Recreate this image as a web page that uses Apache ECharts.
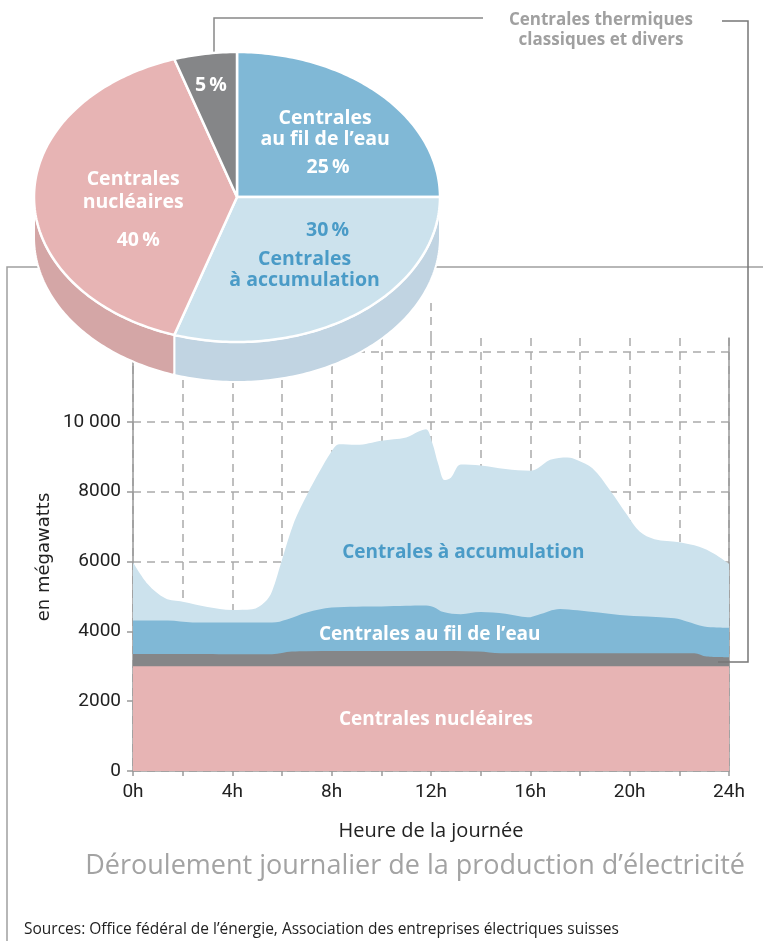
<!DOCTYPE html>
<html><head><meta charset="utf-8">
<script src="https://cdn.jsdelivr.net/npm/echarts@6/dist/echarts.min.js"></script>
<style>html,body{margin:0;padding:0;background:#fff}#c{width:763px;height:941px}</style>
</head><body><div id="c"></div>
<script>
// ---------- DATA ----------
const pieNames = ["Centrales\nau fil de l’eau", "Centrales\nà accumulation", "Centrales\nnucléaires", "Centrales thermiques\nclassiques et divers"];
const pieValues = [25, 30, 40, 5];

const areaNames = ["Centrales à accumulation", "Centrales au fil de l’eau", "Centrales thermiques classiques et divers", "Centrales nucléaires"];

// upper edge of each layer (MW)
const accHours = [0,0.6,1.3,2,3,4,4.8,5.3,5.6,6,6.5,7,7.5,8,8.3,9,10,11,11.5,11.8,12.05,12.3,12.55,12.8,13.2,14,15,16,16.3,16.8,17.5,17.9,18.5,19.2,19.9,20.4,21,22,22.8,23.4,24];
const accTop   = [5980,5350,4950,4850,4700,4610,4630,4830,5150,6050,7150,7900,8560,9160,9360,9340,9460,9550,9720,9790,9400,8770,8330,8400,8780,8750,8650,8600,8670,8910,8980,8900,8670,8050,7330,6860,6640,6550,6420,6220,5930];

const filHours = [0,1.4,2.4,5.6,6.2,7,8,9,10,11,11.7,12.1,12.5,13.2,14,15,15.9,16.3,17.2,17.9,19.6,21.8,22.3,23,23.5,24];
const filTop   = [4310,4310,4255,4250,4340,4540,4680,4705,4710,4730,4740,4700,4550,4490,4550,4500,4400,4470,4640,4600,4470,4375,4280,4135,4110,4105];

const thermHours = [0,5.6,6.4,7,12,13.9,14.8,22.6,23.1,24];
const thermTop   = [3350,3345,3420,3430,3435,3420,3372,3372,3276,3257];

const nuclHours = [0,24];
const nuclTop   = [3000,3000];

const yTicks = [0,2000,4000,6000,8000,10000];
const yTickLabels = ["0","2000","4000","6000","8000","10 000"];

// ---------- STYLE / LAYOUT ----------
const FONT = 'Roboto, "Liberation Sans", sans-serif';
const FONT2 = '"Open Sans", Roboto, sans-serif';
const PIE = {cx:237, cy:197, rx:203, ry:145, depth:40};
const pieTopColors  = ['#80b8d6', '#cce2ed', '#e7b4b4', '#858688'];
const pieSideColors = ['#6fa3bf', '#c1d4e2', '#d4a6a6', '#76777a'];
const pieLabelLayout = [
  {f:0.6, name:true,  nameDx:2,  nameDy:-7, pctDx:5,  pctDy:32, color:'#fff',    lh:21},
  {f:0.6, name:true,  nameDx:-4, nameDy:3,  pctDx:19, pctDy:-37, color:'#4a9bc7', lh:21},
  {f:0.6, name:true,  nameDx:18, nameDy:-6, pctDx:23, pctDy:43, color:'#fff',    lh:23},
  {f:0.6, name:false, nameDx:0,  nameDy:0,  pctDx:-7, pctDy:-26, color:'#fff',   lh:20}
];
const areaColors = ['#cce2ed', '#80b8d6', '#858688', '#e7b4b4'];

function zip(h, v){ return h.map((x,i)=>[x, v[i]]); }

function ellPt(deg, f, dy){
  const r = deg*Math.PI/180;
  return [PIE.cx + PIE.rx*f*Math.sin(r), PIE.cy - PIE.ry*f*Math.cos(r) + (dy||0)];
}

function renderPie(params, api){
  const i = params.dataIndex;
  const total = pieValues.reduce((a,b)=>a+b,0);
  let before = 0; for (let k=0;k<i;k++) before += pieValues[k];
  const a0 = before/total*360, a1 = (before+pieValues[i])/total*360;
  const children = [];
  const t0 = Math.max(a0,90), t1 = Math.min(a1,270);
  if (t1 > t0){
    const pts = [];
    for (let d=t0; d<t1; d+=1) pts.push(ellPt(d,1,0));
    pts.push(ellPt(t1,1,0));
    for (let d=t1; d>t0; d-=1) pts.push(ellPt(d,1,PIE.depth));
    pts.push(ellPt(t0,1,PIE.depth));
    children.push({type:'polygon', z2:0, shape:{points:pts}, style:{fill:pieSideColors[i], stroke:'#fff', lineWidth:2}});
  }
  const top = [[PIE.cx, PIE.cy]];
  for (let d=a0; d<a1; d+=1) top.push(ellPt(d,1,0));
  top.push(ellPt(a1,1,0));
  children.push({type:'polygon', z2:1, shape:{points:top}, style:{fill:pieTopColors[i], stroke:'#fff', lineWidth:2.5, lineJoin:'round'}});
  const L = pieLabelLayout[i];
  const anc = ellPt((a0+a1)/2, L.f, 0);
  if (L.name){
    children.push({type:'text', z2:2, x:anc[0]+L.nameDx, y:anc[1]+L.nameDy,
      style:{text:pieNames[i], fill:L.color, fontSize:19.5, fontWeight:'bold', fontFamily:FONT2, align:'center', verticalAlign:'middle', lineHeight:L.lh}});
  }
  children.push({type:'text', z2:2, x:anc[0]+L.pctDx, y:anc[1]+L.pctDy,
    style:{text:pieValues[i]+'\u2009%', fill:L.color, fontSize:19.5, fontWeight:'bold', fontFamily:FONT2, align:'center', verticalAlign:'middle'}});
  return {type:'group', children};
}

const areaLabelPos = [[13.3, 6250], [11.95, 3900], null, [12.2, 1460]];
const areaLabelColor = ['#4a9bc7', '#fff', null, '#fff'];
const areaData = [zip(accHours,accTop), zip(filHours,filTop), zip(thermHours,thermTop), zip(nuclHours,nuclTop)];

const series = areaNames.map((n,i)=>{
  const s = {
    name:n, type:'line', data:areaData[i], smooth:0.35, symbol:'none',
    lineStyle:{width:0}, areaStyle:{color:areaColors[i], opacity:1}, itemStyle:{color:areaColors[i]},
    silent:true, z:2
  };
  if (areaLabelPos[i]){
    s.markPoint = {symbol:'circle', symbolSize:0, silent:true, data:[{coord:areaLabelPos[i], value:n}],
      label:{show:true, position:'inside', formatter:n, color:areaLabelColor[i], fontSize:19, fontWeight:'bold', fontFamily:FONT2}};
  }
  return s;
});
series.push({type:'custom', coordinateSystem:'none', renderItem:renderPie, data:pieValues, z:20, silent:true});

const gridColor = '#aaaaaa';
const option = {
  animation:false,
  grid:{left:133, right:34, top:338, bottom:170},
  xAxis:{type:'value', min:0, max:24, interval:2,
    axisLine:{lineStyle:{color:'#999', width:1.5}},
    axisTick:{show:true, length:5, lineStyle:{color:'#999', width:1.5}},
    axisLabel:{formatter:v=> (v%4===0 ? v+'h' : ''), color:'#222', fontSize:19, fontFamily:FONT, margin:12},
    splitLine:{show:true, lineStyle:{type:[8,6], color:gridColor, width:1.5}},
    name:'Heure de la journée', nameLocation:'middle', nameGap:50,
    nameTextStyle:{color:'#222', fontSize:20, fontFamily:FONT2}
  },
  yAxis:[{type:'value', min:0, max:12400, interval:2000,
    axisLine:{show:true, lineStyle:{color:'#999', width:1.5}},
    axisTick:{show:true, length:6, lineStyle:{color:'#999', width:1.5}},
    axisLabel:{formatter:v=>{const k=yTicks.indexOf(v); return k>=0?yTickLabels[k]:'';}, color:'#222', fontSize:19, fontFamily:FONT, margin:12}, 
    splitLine:{show:true, showMaxLine:false, lineStyle:{type:[8,6], color:gridColor, width:1.5}}
  },{type:'value', min:0, max:12400, interval:2000, position:'right',
    axisLine:{show:true, lineStyle:{color:'#999', width:1.5}}, axisTick:{show:false}, axisLabel:{show:false}, splitLine:{show:false}
  }],
  graphic:[
    {type:'polyline', z:5, shape:{points:[[7,941],[7,267],[763,267]]}, style:{stroke:'#a0a0a0', lineWidth:1.5, fill:null}},
    {type:'polyline', z:5, shape:{points:[[214,62],[214,18],[483,18]]}, style:{stroke:'#888', lineWidth:1.5, fill:null}},
    {type:'polyline', z:5, shape:{points:[[722,21],[748,21],[748,662],[718,662]]}, style:{stroke:'#777', lineWidth:1.5, fill:null}},
    {type:'text', z:5, x:601, y:30, style:{text:pieNames[3], fill:'#a0a0a0', fontSize:17, fontWeight:'bold', fontFamily:FONT2, align:'center', verticalAlign:'middle', lineHeight:20}},
    {type:'text', z:5, x:44, y:557, rotation:Math.PI/2, style:{text:'en mégawatts', fill:'#222', font:'18px "DejaVu Sans", Verdana, sans-serif', align:'center', verticalAlign:'middle'}},
    {type:'text', z:5, x:745, y:866, style:{text:'Déroulement journalier de la production d’électricité', fill:'#a3a3a3', fontSize:27, fontFamily:FONT2, align:'right', verticalAlign:'middle'}},
    {type:'text', z:5, x:24, y:930, style:{text:'Sources: Office fédéral de l’énergie, Association des entreprises électriques suisses', fill:'#222', fontSize:15.5, fontFamily:FONT2, align:'left', verticalAlign:'middle'}}
  ],
  series
};
const chart = echarts.init(document.getElementById('c'), null, {renderer:'canvas'});
chart.setOption(option);
const p12 = chart.convertToPixel({xAxisIndex:0, yAxisIndex:0}, [12, 12400]);
chart.setOption({graphic:[{type:'line', id:'ext12', z:1, shape:{x1:p12[0], y1:303, x2:p12[0], y2:p12[1]}, style:{stroke:gridColor, lineWidth:1.5, lineDash:[8,6]}}]});
</script></body></html>
